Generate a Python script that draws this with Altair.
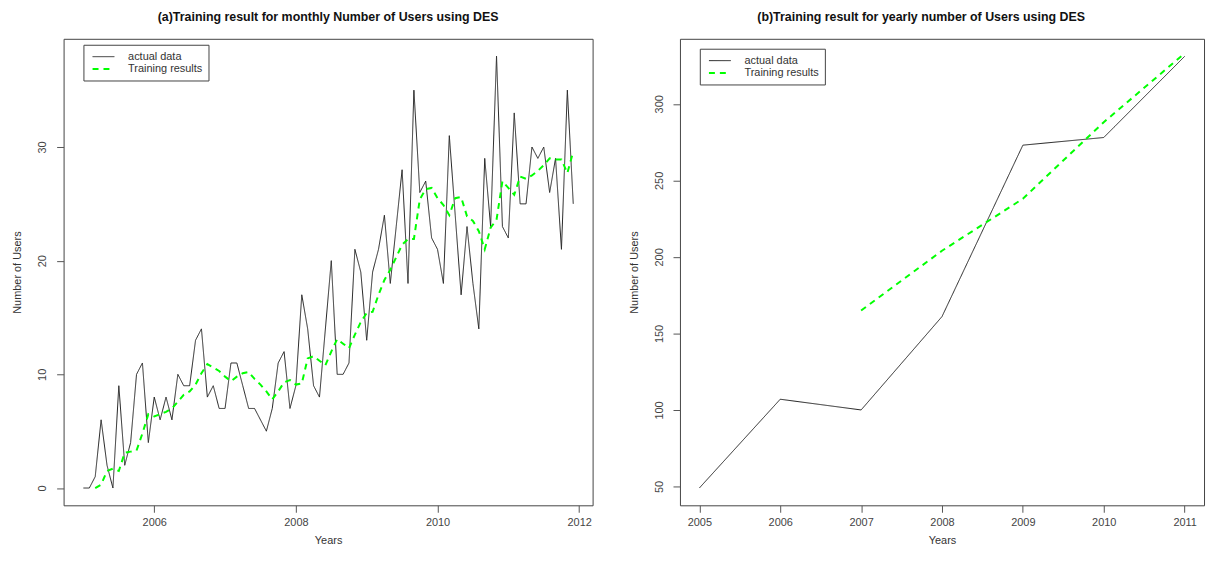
import pandas as pd
import altair as alt

FONT = "Liberation Sans"

# monthly series, Jan 2005 .. Dec 2011
actual_monthly = [0, 0, 1, 6, 2, 0, 9, 2, 4, 10, 11, 4,
                  8, 6, 8, 6, 10, 9, 9, 13, 14, 8, 9, 7,
                  7, 11, 11, 9, 7, 7, 6, 5, 7, 11, 12, 7,
                  9, 17, 14, 9, 8, 14, 20, 10, 10, 11, 21, 19,
                  13, 19, 21, 24, 18, 23, 28, 18, 35, 26, 27, 22,
                  21, 18, 31, 24, 17, 23, 18, 14, 29, 23, 38, 23,
                  22, 33, 25, 25, 30, 29, 30, 26, 29, 21, 35, 25]
# DES fitted values start at the third month
training_monthly = [0.0, 0.3, 1.5, 1.7, 1.5, 3.1, 3.2, 3.3, 4.8, 6.5,
                    6.3, 6.5, 6.7, 7.0, 7.6, 8.2, 8.5, 9.1, 10.1, 10.9, 10.6, 10.3,
                    9.8, 9.4, 9.8, 10.1, 10.2, 9.6, 9.1, 8.5, 7.8, 8.5, 9.3, 9.5,
                    9.1, 9.2, 11.4, 11.6, 11.2, 10.8, 12.0, 13.1, 12.7, 12.3, 13.5, 14.6,
                    15.4, 15.5, 17.0, 18.3, 19.2, 20.3, 21.4, 21.9, 21.9, 25.4, 26.3, 26.4,
                    25.5, 24.9, 24.0, 25.5, 25.6, 23.9, 23.5, 22.6, 21.0, 22.9, 23.6, 27.0,
                    26.4, 25.8, 27.4, 27.2, 27.5, 27.9, 28.4, 29.0, 28.9, 28.9, 27.7, 29.6]

years = [2005, 2006, 2007, 2008, 2009, 2010, 2011]
actual_yearly = [49, 107, 100, 161, 273, 278, 331]
training_years = [2007, 2008, 2009, 2010, 2011]
training_yearly = [165, 204, 238, 288, 333]

series_names = ["actual data", "Training results"]

month_time = [2005 + i / 12 for i in range(len(actual_monthly))]

monthly = pd.concat([
    pd.DataFrame({"Time": month_time, "Users": actual_monthly, "Series": series_names[0]}),
    pd.DataFrame({"Time": month_time[len(month_time) - len(training_monthly):],
                  "Users": training_monthly, "Series": series_names[1]}),
])
yearly = pd.concat([
    pd.DataFrame({"Time": years, "Users": actual_yearly, "Series": series_names[0]}),
    pd.DataFrame({"Time": training_years, "Users": training_yearly, "Series": series_names[1]}),
])


def series_channels(legend_x, legend_y):
    # short symbol box (keeps rows tight), long line drawn by the custom path
    legend = alt.Legend(
        title=None, orient="none", legendX=legend_x, legendY=legend_y,
        symbolType="M-0.6,0H3.4", symbolSize=121, labelOffset=26,
        labelFont=FONT, labelFontSize=11, labelColor="#333",
        padding=6, rowPadding=1, strokeColor="#444", fillColor="white",
    )
    color = alt.Color("Series:N", legend=legend,
                      scale=alt.Scale(domain=series_names, range=["#222222", "#00ff00"]))
    dash = alt.StrokeDash("Series:N", legend=legend,
                          scale=alt.Scale(domain=series_names, range=[[1, 0], [6, 5]]))
    width = alt.StrokeWidth("Series:N", legend=legend,
                            scale=alt.Scale(domain=series_names, range=[1, 2]))
    return color, dash, width


y_axis = dict(labelAngle=-90, labelAlign="center", labelBaseline="bottom",
              labelPadding=9, titlePadding=14)
x_axis = dict(labelPadding=4, titlePadding=7, format="d")

PLOT_H = 470

# (a) monthly
c, d, w = series_channels(20, 6)
left = alt.Chart(monthly).mark_line().encode(
    x=alt.X("Time:Q", title="Years",
            scale=alt.Scale(domain=[2004.72, 2012.19], nice=False, zero=False),
            axis=alt.Axis(values=[2006, 2008, 2010, 2012], **x_axis)),
    y=alt.Y("Users:Q", title="Number of Users",
            scale=alt.Scale(domain=[-1.52, 39.52], nice=False, zero=False),
            axis=alt.Axis(values=[0, 10, 20, 30], **y_axis)),
    color=c, strokeDash=d, strokeWidth=w,
).properties(
    width=533, height=PLOT_H,
    title=alt.Title("(a)Training result for monthly Number of Users using DES"),
)

# (b) yearly
c, d, w = series_channels(20, 10)
right = alt.Chart(yearly).mark_line().encode(
    x=alt.X("Time:Q", title="Years",
            scale=alt.Scale(domain=[2004.76, 2011.24], nice=False, zero=False),
            axis=alt.Axis(values=years, **x_axis)),
    y=alt.Y("Users:Q", title="Number of Users",
            scale=alt.Scale(domain=[37.7, 342.5], nice=False, zero=False),
            axis=alt.Axis(values=[50, 100, 150, 200, 250, 300], **y_axis)),
    color=c, strokeDash=d, strokeWidth=w,
).properties(
    width=528, height=PLOT_H,
    title=alt.Title("(b)Training result for yearly number of Users using DES", dx=-21),
)

chart = alt.hconcat(left, right, spacing=34).resolve_scale(
    color="independent", strokeDash="independent", strokeWidth="independent"
).resolve_legend(
    color="independent", strokeDash="independent", strokeWidth="independent"
).configure_view(
    stroke="#444", strokeWidth=1
).configure_axis(
    labelFont=FONT, titleFont=FONT, labelFontSize=11, titleFontSize=11,
    labelColor="#444", titleColor="#333", titleFontWeight="normal",
    tickColor="#555", tickSize=7, domain=False, grid=False,
).configure_title(
    font=FONT, fontSize=12.5, fontWeight="bold", color="#111", offset=15, anchor="middle"
).properties(
    padding={"left": 3, "top": 1, "right": 2, "bottom": 2},
    background="white",
)

chart.save("out.html", embed_options={"renderer": "svg", "actions": False})
